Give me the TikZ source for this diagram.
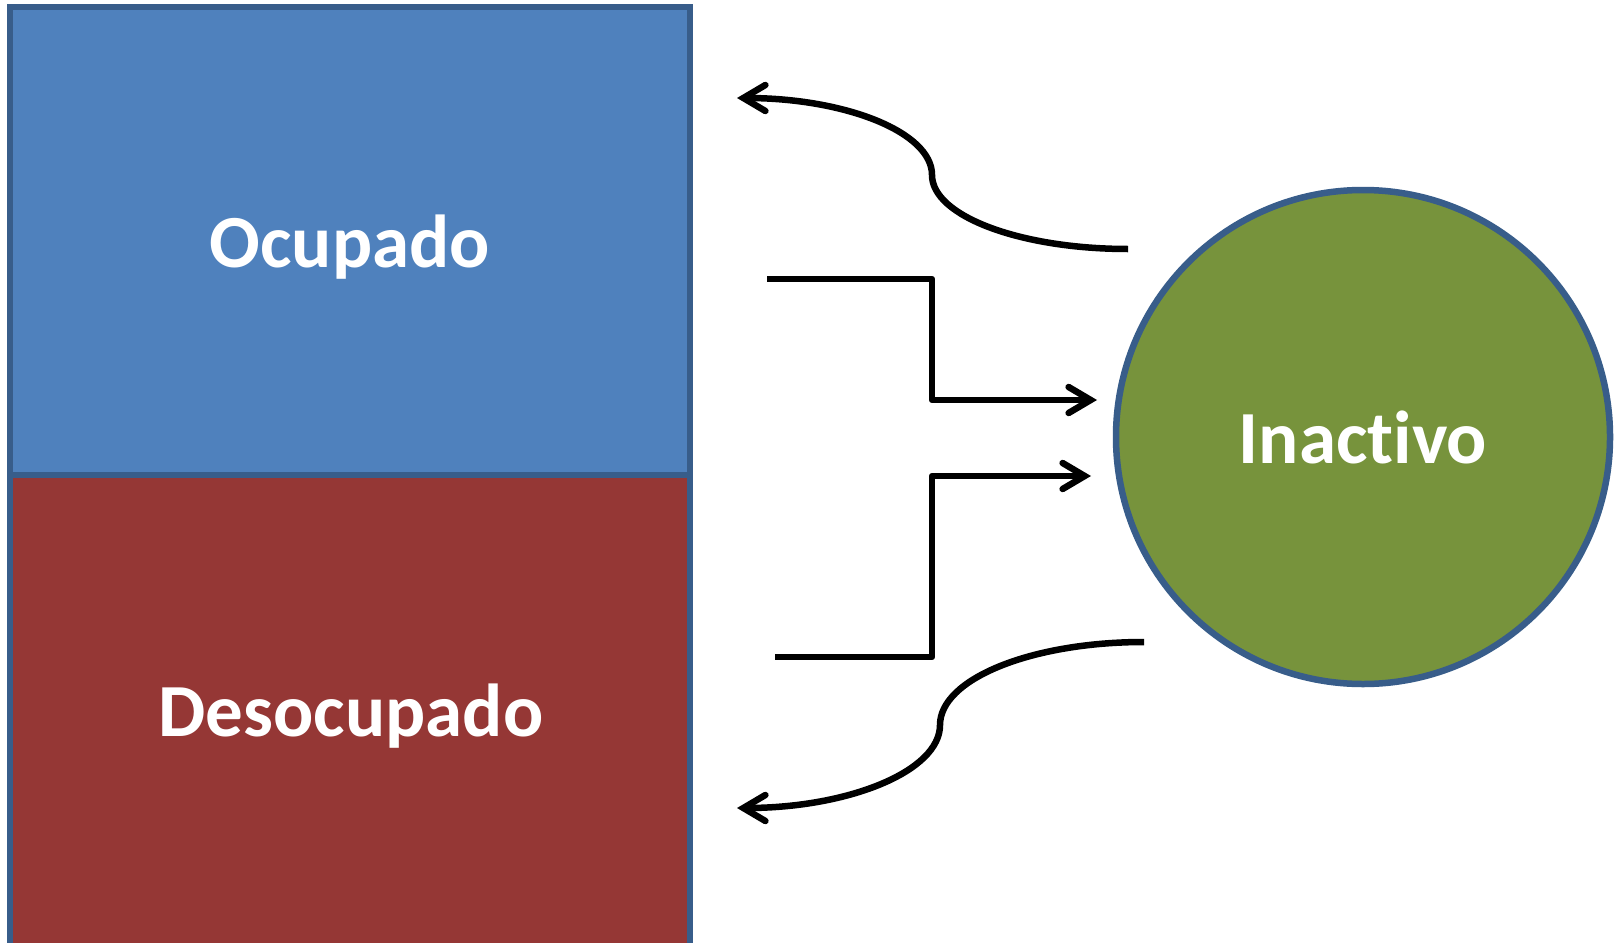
\documentclass[tikz,border=0pt]{standalone}
\usepackage{fontspec}
\setmainfont[RawFeature=-liga]{Carlito}
\usetikzlibrary{arrows.meta}
\definecolor{boxblue}{HTML}{4F81BD}
\definecolor{edgeblue}{HTML}{385D8A}
\definecolor{boxred}{HTML}{953735}
\definecolor{circgreen}{HTML}{77933C}
\tikzset{
  statebox/.style={draw=edgeblue, line width=6pt, rectangle, minimum width=680pt, inner sep=0pt, text=white, font=\fontsize{75}{90}\selectfont\bfseries},
  statecirc/.style={draw=edgeblue, line width=6.5pt, circle, minimum size=494pt, inner sep=0pt, fill=circgreen, text=white, font=\fontsize{75}{90}\selectfont\bfseries},
  boxlabel/.style={text=white, font=\fontsize{75}{90}\selectfont\bfseries},
  flow/.style={draw=black, line width=6.5pt, line join=round, -{Straight Barb[length=22pt, width=26pt, line cap=round, line width=6.5pt]}}
}
\begin{document}
\begin{tikzpicture}[x=1pt, y=-1pt]
\useasboundingbox (0,0) rectangle (1624,942);
\clip (0,0) rectangle (1624,942);
\fill[white] (0,0) rectangle (1624,942);
\node[statebox, fill=boxblue, minimum height=468pt] (ocup) at (350.2,241.3) {};
\node[boxlabel] (ocuplbl) at (350,247) {Ocupado};
\node[statebox, fill=boxred, minimum height=500pt] (desoc) at (350.2,725) {};
\node[boxlabel] (desoclbl) at (351,716) {Desocupado};
\node[statecirc] (inac) at (1363,437) {Inactivo};
% free ends
\coordinate (c1s) at (1128,249);
\coordinate (c1m) at (932,175);
\coordinate (c1e) at (737,98);
\coordinate (e1s) at (767,279);
\coordinate (e1c) at (932,279);
\coordinate (e1d) at (932,400);
\coordinate (e1e) at (1097,400);
\coordinate (e2s) at (775,657);
\coordinate (e2c) at (932,657);
\coordinate (e2d) at (932,476);
\coordinate (e2e) at (1091,476);
\coordinate (c2s) at (1144,642);
\coordinate (c2m) at (940,725);
\coordinate (c2e) at (737,808);
% connectors
\draw[flow] (c1s) .. controls (1020,249) and (932,216) .. (c1m) .. controls (932,132) and (845,98) .. (c1e);
\draw[flow] (e1s) -- (e1c) -- (e1d) -- (e1e);
\draw[flow] (e2s) -- (e2c) -- (e2d) -- (e2e);
\draw[flow] (c2s) .. controls (1031,642) and (940,679) .. (c2m) .. controls (940,771) and (849,808) .. (c2e);
\end{tikzpicture}
\end{document}
